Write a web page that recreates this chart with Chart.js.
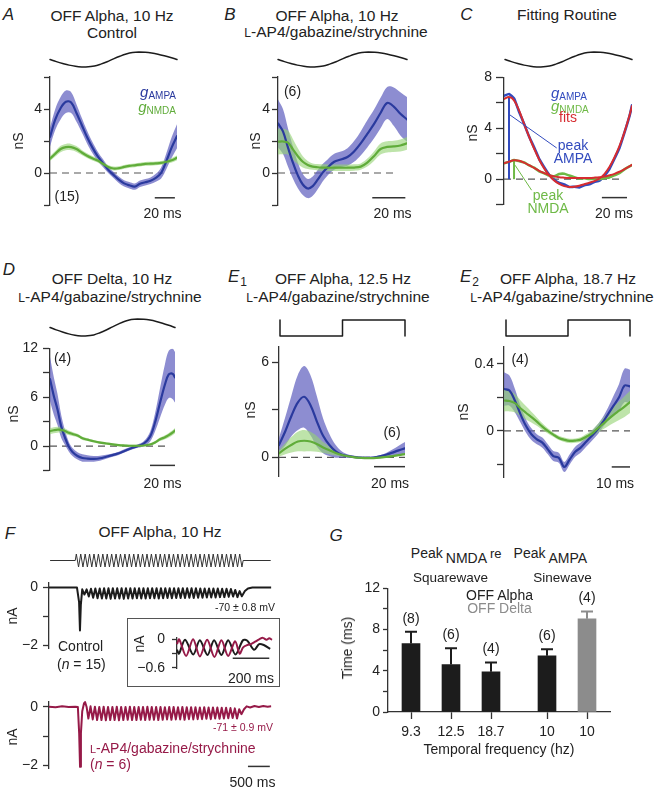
<!DOCTYPE html>
<html>
<head>
<meta charset="utf-8">
<title>OFF Alpha conductances</title>
<script src="https://cdn.jsdelivr.net/npm/chart.js@4.4.1/dist/chart.umd.min.js"></script>
<style>
  body { margin: 0; background: #fff; }
  #fig { position: relative; width: 658px; height: 789px; overflow: hidden;
         font-family: "Liberation Sans", Arial, Helvetica, sans-serif; color: #222; }
  #fig canvas { position: absolute; }
  .t { position: absolute; white-space: nowrap; line-height: 1; }
  .box { position: absolute; border: 1px solid #555; }
</style>
</head>
<body>
<div id="fig"></div>
<script>
// ---------- data (time in ms, conductance in nS, current in nA) ----------

// A: OFF Alpha, 10 Hz, control
const aTime = [0, 5, 10, 15, 20, 25, 30, 35, 40, 45, 50, 55, 60, 65, 70, 75, 80, 85, 90, 95, 100, 105, 110, 115, 120];
const aAmpa = [2.25, 3.35, 4.05, 4.45, 4.4, 3.75, 3.0, 2.25, 1.6, 1.05, 0.62, 0.2, -0.12, -0.42, -0.65, -0.77, -0.85, -0.67, -0.58, -0.48, -0.3, 0.0, 0.75, 1.6, 2.3];
const aAmpaSem = [0.6, 0.65, 0.7, 0.7, 0.65, 0.55, 0.45, 0.4, 0.35, 0.3, 0.25, 0.2, 0.2, 0.2, 0.2, 0.2, 0.2, 0.2, 0.2, 0.2, 0.25, 0.35, 0.5, 0.65, 0.75];
const aNmda = [0.9, 1.2, 1.5, 1.62, 1.62, 1.5, 1.28, 1.08, 0.92, 0.78, 0.58, 0.38, 0.28, 0.3, 0.38, 0.45, 0.48, 0.52, 0.57, 0.58, 0.6, 0.63, 0.7, 0.8, 0.95];
const aNmdaSem = [0.15, 0.17, 0.2, 0.2, 0.2, 0.18, 0.16, 0.15, 0.14, 0.13, 0.12, 0.12, 0.12, 0.12, 0.12, 0.12, 0.12, 0.12, 0.12, 0.12, 0.12, 0.12, 0.13, 0.14, 0.15];

// B: OFF Alpha, 10 Hz, L-AP4/gabazine/strychnine
const bTime = [0, 3, 6, 9, 12, 15, 18, 21, 24, 27, 30, 34, 38, 42, 46, 50, 54, 58, 62, 66, 70, 74, 78];
const bAmpa = [3.1, 2.6, 1.6, 0.65, -0.15, -0.72, -0.97, -0.82, -0.42, 0.02, 0.35, 0.7, 0.84, 1.0, 1.35, 1.85, 2.45, 3.05, 3.75, 4.38, 4.15, 3.7, 3.35];
const bAmpaSem = [1.5, 1.4, 1.2, 1.0, 0.8, 0.65, 0.6, 0.6, 0.6, 0.55, 0.5, 0.5, 0.5, 0.55, 0.65, 0.75, 0.85, 0.9, 0.95, 1.0, 1.2, 1.35, 1.4];
const bNmda = [1.96, 1.97, 1.9, 1.48, 1.05, 0.7, 0.5, 0.4, 0.36, 0.34, 0.33, 0.33, 0.33, 0.33, 0.34, 0.4, 0.65, 1.05, 1.5, 1.63, 1.66, 1.72, 1.85];
const bNmdaSem = [0.8, 0.8, 0.75, 0.65, 0.5, 0.35, 0.25, 0.2, 0.2, 0.2, 0.2, 0.2, 0.2, 0.2, 0.2, 0.2, 0.25, 0.3, 0.35, 0.35, 0.35, 0.38, 0.4];

// C: fitting routine (raw traces and fits)
const cTime = [0, 4, 8, 12, 16, 20, 24, 28, 32, 36, 40, 44, 48, 52, 56, 60, 64, 68, 72, 76, 80, 84, 88, 92, 96, 100, 102];
const cAmpa = [6.55, 6.7, 6.35, 5.3, 4.35, 3.35, 2.5, 1.6, 0.95, 0.35, -0.05, -0.3, -0.42, -0.62, -0.6, -0.65, -0.48, -0.4, -0.22, -0.12, 0.28, 0.8, 1.6, 2.45, 3.65, 4.95, 5.8];
const cAmpaFit = [6.3, 6.45, 6.2, 5.4, 4.35, 3.35, 2.4, 1.55, 0.85, 0.3, -0.1, -0.38, -0.55, -0.62, -0.6, -0.52, -0.4, -0.28, -0.15, 0.05, 0.4, 0.95, 1.7, 2.6, 3.7, 5.0, 5.75];
const cNmda = [1.25, 1.35, 1.5, 1.42, 1.32, 1.08, 0.9, 0.62, 0.47, 0.28, 0.22, 0.4, 0.42, 0.28, 0.15, 0.05, 0.07, 0.02, 0.03, 0.0, 0.1, 0.14, 0.3, 0.48, 0.77, 1.0, 1.1];
const cNmdaFit = [1.25, 1.38, 1.48, 1.45, 1.3, 1.1, 0.88, 0.66, 0.47, 0.32, 0.22, 0.15, 0.12, 0.1, 0.1, 0.1, 0.1, 0.1, 0.12, 0.15, 0.2, 0.3, 0.42, 0.58, 0.78, 1.0, 1.12];
const cAmpaPointer = [[4, 5.1], [42, 2.45]];
const cNmdaPointer = [[8.8, 1.1], [22, -0.87]];

// D: OFF Delta, 10 Hz, L-AP4/gabazine/strychnine
const dTime = [0, 3, 6, 9, 12, 15, 18, 22, 26, 30, 35, 40, 45, 50, 55, 60, 65, 70, 75, 80, 84, 88, 92, 95, 98, 100];
const dAmpa = [8.24, 6.2, 4.5, 2.4, 1.05, -0.05, -0.72, -1.2, -1.45, -1.52, -1.55, -1.48, -1.3, -1.1, -0.88, -0.56, -0.25, 0.0, 0.3, 1.15, 2.9, 5.3, 7.6, 8.8, 8.9, 8.45];
const dAmpaSem = [2.7, 2.3, 1.9, 1.4, 0.9, 0.6, 0.5, 0.45, 0.45, 0.4, 0.35, 0.3, 0.25, 0.2, 0.2, 0.2, 0.2, 0.2, 0.3, 0.6, 1.1, 1.8, 2.5, 2.9, 3.1, 3.1];
const dNmda = [1.85, 1.95, 2.02, 2.0, 1.85, 1.65, 1.5, 1.3, 0.96, 0.8, 0.6, 0.44, 0.33, 0.22, 0.12, 0.08, 0.05, 0.05, 0.08, 0.2, 0.45, 0.84, 1.1, 1.35, 1.65, 1.92];
const dNmdaSem = [0.38, 0.38, 0.37, 0.35, 0.32, 0.28, 0.25, 0.22, 0.2, 0.18, 0.16, 0.15, 0.14, 0.13, 0.12, 0.12, 0.12, 0.12, 0.13, 0.15, 0.18, 0.22, 0.25, 0.28, 0.3, 0.32];

// E1: OFF Alpha, 12.5 Hz square wave
const e1Time = [0, 4, 8, 12, 16, 20, 24, 28, 32, 36, 40, 44, 48, 52, 56, 60, 64, 68, 72, 76, 80];
const e1Ampa = [0.78, 1.65, 2.65, 3.48, 3.83, 3.3, 2.28, 1.36, 0.78, 0.38, 0.17, 0.08, 0.02, -0.02, -0.03, -0.01, 0.06, 0.16, 0.3, 0.44, 0.57];
const e1AmpaSem = [0.45, 0.9, 1.3, 1.75, 1.95, 1.9, 1.6, 1.1, 0.7, 0.4, 0.2, 0.1, 0.08, 0.06, 0.06, 0.06, 0.08, 0.12, 0.2, 0.3, 0.4];
const e1Nmda = [0.25, 0.55, 0.8, 1.0, 1.05, 1.0, 0.85, 0.62, 0.45, 0.27, 0.15, 0.07, 0.0, -0.03, -0.05, -0.05, -0.02, 0.03, 0.08, 0.14, 0.21];
const e1NmdaSem = [0.2, 0.35, 0.5, 0.62, 0.68, 0.62, 0.5, 0.35, 0.25, 0.15, 0.1, 0.06, 0.05, 0.05, 0.05, 0.05, 0.05, 0.05, 0.05, 0.05, 0.06];

// E2: OFF Alpha, 18.7 Hz square wave
const e2Time = [0, 3, 6, 9, 12, 15, 18, 21, 24, 27, 30, 33, 36, 39, 42, 45, 48, 51, 54, 57, 60, 63, 66, 69];
const e2Ampa = [0.25, 0.24, 0.18, 0.1, 0.03, -0.02, -0.05, -0.07, -0.11, -0.15, -0.16, -0.215, -0.17, -0.125, -0.1, -0.065, -0.03, 0.005, 0.05, 0.1, 0.15, 0.2, 0.27, 0.265];
const e2AmpaSem = [0.1, 0.09, 0.07, 0.05, 0.04, 0.035, 0.03, 0.03, 0.03, 0.03, 0.03, 0.03, 0.03, 0.03, 0.03, 0.03, 0.03, 0.03, 0.03, 0.04, 0.06, 0.08, 0.1, 0.1];
const e2Nmda = [0.181, 0.178, 0.165, 0.135, 0.108, 0.082, 0.055, 0.025, 0.0, -0.022, -0.042, -0.053, -0.06, -0.058, -0.052, -0.035, -0.018, 0.012, 0.04, 0.068, 0.095, 0.12, 0.145, 0.172];
const e2NmdaSem = [0.065, 0.062, 0.055, 0.048, 0.04, 0.032, 0.025, 0.02, 0.015, 0.013, 0.013, 0.013, 0.013, 0.013, 0.014, 0.016, 0.02, 0.025, 0.032, 0.04, 0.048, 0.055, 0.062, 0.065];

// stimulus shapes (fraction of the trace width, normalised contrast)
const sineStimX = [0, 0.05, 0.1, 0.15, 0.2, 0.25, 0.28, 0.35, 0.4, 0.45, 0.5, 0.55, 0.6, 0.65, 0.7, 0.75, 0.8, 0.85, 0.9, 0.95, 1];
const sineStim = [0, -0.28, -0.53, -0.75, -0.9, -0.99, -1, -0.87, -0.62, -0.3, 0.08, 0.43, 0.73, 0.93, 1, 0.97, 0.87, 0.71, 0.5, 0.26, 0];
const squareStimX = [0, 0, 0.5, 0.5, 1, 1];
const squareStim = [1, -1, -1, 1, 1, -1];

// F: whole-cell currents, 10 Hz sine train
const fStimLevels = [
  1, -1, 1, -1, 1, -1, 1, -1, 1, -1, 1, -1, 1, -1, 1, -1, 1, -1, 1, -1,
  1, -1, 1, -1, 1, -1, 1, -1, 1, -1, 1, -1, 1, -1, 1, -1, 1, -1, 1, -1,
  1, -1, 1, -1, 1, -1, 1, -1, 1, -1, 1, -1, 1, -1, 1, -1, 1, -1, 1, -1,
  1, -1, 1, -1, 1, -1, 1, -1, 1, -1, 1, -1, 1, -1, 1, -1
];
const F_PERIOD = 100;
const fCtrlOnset = [[0, 0], [640, 0], [688, -0.5], [708, -1.48], [728, -0.6], [760, -0.06]];
const fCtrlFirstTrough = 810;
const fCtrlTroughs = [-0.24, -0.31, -0.35, -0.37, -0.38, -0.38, -0.39, -0.38, -0.38, -0.39, -0.38, -0.38, -0.37, -0.38, -0.38, -0.37, -0.37, -0.38, -0.37, -0.36, -0.37, -0.36, -0.36, -0.36, -0.35, -0.36, -0.35, -0.35, -0.34, -0.34, -0.34, -0.33, -0.33, -0.32, -0.31, -0.33];
const fCtrlPeaks = [-0.06, -0.04, -0.03, -0.03, -0.02, -0.02, -0.02, -0.02, -0.02, -0.02, -0.02, -0.02, -0.02, -0.02, -0.02, -0.02, -0.02, -0.02, -0.02, -0.02, -0.02, -0.02, -0.02, -0.02, -0.02, -0.02, -0.03, -0.03, -0.03, -0.03, -0.03, -0.04, -0.04, -0.05, -0.08, -0.12];
const fCtrlTail = [[4410, -0.3], [4480, -0.12], [4550, -0.03], [4650, 0], [5080, 0]];
const fRedOnset = [[0, 0.01], [150, -0.01], [300, 0.02], [450, 0], [600, 0.01], [660, 0], [690, -0.9], [710, -2.06], [730, -0.9], [760, -0.15], [800, 0.12], [825, 0.17], [860, 0]];
const fRedFirstTrough = 900;
const fRedTroughs = [-0.4, -0.43, -0.45, -0.45, -0.46, -0.45, -0.45, -0.46, -0.45, -0.44, -0.45, -0.45, -0.44, -0.45, -0.44, -0.44, -0.45, -0.44, -0.43, -0.44, -0.43, -0.43, -0.44, -0.42, -0.43, -0.42, -0.42, -0.41, -0.42, -0.4, -0.41, -0.4, -0.39, -0.38, -0.4];
const fRedPeaks = [0.02, 0.01, 0, 0.01, 0, 0, 0.01, 0, 0, 0.01, 0, 0, 0, 0.01, 0, 0, 0, -0.01, 0, 0, -0.01, 0, -0.01, -0.01, -0.01, -0.02, -0.01, -0.02, -0.02, -0.02, -0.03, -0.03, -0.04, -0.05, -0.08];
const fRedTail = [[4400, -0.25], [4460, -0.08], [4520, 0.02], [4600, -0.02], [4700, 0.03], [4800, 0], [4900, 0.03], [5000, 0.01], [5080, 0.02]];
// inset, expanded time (ms)
const insetCtrl = [[0, -0.22], [11, -0.3], [44, -0.01], [89, -0.32], [125, -0.02], [167, -0.33], [203, -0.02], [243, -0.33], [280, -0.02], [320, -0.32], [361, -0.02], [385, -0.03], [422, -0.22], [450, -0.1], [475, -0.12], [510, -0.2]];
const insetRed = [[0, -0.1], [12, 0], [50, -0.35], [88, 0], [125, -0.36], [165, -0.01], [205, -0.37], [243, -0.02], [280, -0.35], [318, -0.04], [343, -0.3], [362, -0.17], [385, -0.12], [405, -0.1], [428, -0.05], [450, 0], [470, 0.03], [490, -0.01], [505, 0.02], [520, -0.01]];

// G: peak NMDA re peak AMPA
const gFreqLabels = ['9.3', '12.5', '18.7', '10', '10'];
const gMeans = [6.65, 4.6, 3.9, 5.45, 9.05];
const gSem = [1.15, 1.6, 0.9, 0.65, 0.7];
const gN = ['(8)', '(6)', '(4)', '(6)', '(4)'];
const gCell = ['OFF Alpha', 'OFF Alpha', 'OFF Alpha', 'OFF Alpha', 'OFF Delta'];

// tick values and labels
const abTicks = [-2, 0, 2, 4, 6], abTickLabels = ['', '0', '', '4', ''];
const cTicks = [-2, 0, 2, 4, 6, 8], cTickLabels = ['', '0', '', '4', '', '8'];
const dTicks = [-3, 0, 3, 6, 9, 12], dTickLabels = ['', '0', '', '6', '', '12'];
const e1Ticks = [0, 3, 6], e1TickLabels = ['0', '', '6'];
const e2Ticks = [-0.2, 0, 0.2, 0.4], e2TickLabels = ['', '0', '', '0.4'];
const fTicks = [-2, -1, 0], fTickLabels = ['\u22122', '', '0'];
const insetTicks = [-0.6, -0.3, 0], insetTickLabels = ['\u22120.6', '', '0'];
const gTicks = [0, 2, 4, 6, 8, 10, 12], gTickLabels = ['0', '', '4', '', '8', '', '12'];

// ---------- styles ----------
const BLUE = 'rgb(42,58,158)';
const BLUE_BAND = 'rgba(92,92,190,0.7)';
const GREEN = 'rgb(96,172,58)';
const GREEN_BAND = 'rgba(150,212,118,0.62)';
const RAW_BLUE = 'rgb(50,75,190)';
const RAW_GREEN = 'rgb(110,185,70)';
const RED_FIT = 'rgb(214,44,48)';
const MAROON = 'rgb(150,26,72)';
const INK = '#1c1c1c';
const AXIS = '#333';
const GREY = '#8c8c8c';
const CELL_COLOR = { 'OFF Alpha': INK, 'OFF Delta': GREY };
const G_SLOTS = [1, 2, 3, 4.4, 5.4];

Chart.defaults.font.family = '"Liberation Sans", Arial, Helvetica, sans-serif';
Chart.defaults.font.size = 14;
Chart.defaults.color = '#222';

const fig = document.getElementById('fig');

// ---------- helpers ----------
function makeChart(area, pad, config, xAxisH = 0) {
  const cv = document.createElement('canvas');
  const w = Math.round(area.r - area.l + pad.l + pad.r);
  const h = Math.round(area.b - area.t + pad.t + pad.b);
  cv.width = w;
  cv.height = h;
  cv.style.left = (area.l - pad.l) + 'px';
  cv.style.top = (area.t - pad.t) + 'px';
  cv.style.width = w + 'px';
  cv.style.height = h + 'px';
  fig.appendChild(cv);
  const o = config.options;
  const y = o.scales.y;
  if (y.display === false) {
    o.layout = { padding: { left: pad.l, right: pad.r, top: pad.t, bottom: pad.b - xAxisH } };
  } else {
    o.layout = { padding: { left: 0, right: pad.r, top: pad.t, bottom: pad.b - xAxisH } };
    y.afterFit = s => { s.width = pad.l; };
  }
  Object.assign(o, { responsive: false, animation: false, devicePixelRatio: 1, events: [] });
  o.plugins = Object.assign({ legend: { display: false }, tooltip: { enabled: false } }, o.plugins || {});
  return new Chart(cv, config);
}

function yAxis(min, max, ticks, labels, tickLen, padding) {
  return {
    min, max,
    afterBuildTicks: s => { s.ticks = ticks.map(v => ({ value: v })); },
    ticks: { callback: (v, i) => labels[i], padding, autoSkip: false, color: '#222', font: { size: 14 } },
    grid: { drawOnChartArea: false, drawTicks: true, tickLength: tickLen, tickColor: AXIS, tickWidth: 1.3 },
    border: { display: true, color: AXIS, width: 1.3 }
  };
}

function xHidden(min, max) {
  return { type: 'linear', min, max, display: false };
}

function pts(xs, ys) {
  return xs.map((x, i) => ({ x, y: ys[i] }));
}

function trace(xs, ys, color, width, order, extra) {
  return Object.assign({ data: pts(xs, ys), borderColor: color, borderWidth: width, pointRadius: 0,
    fill: false, tension: 0.35, order, borderJoinStyle: 'round', borderCapStyle: 'round' }, extra || {});
}

function seg(points, color, width, order, dash) {
  return { data: points.map(p => ({ x: p[0], y: p[1] })), borderColor: color, borderWidth: width,
    pointRadius: 0, fill: false, tension: 0, order, borderDash: dash || [], clip: false };
}

function band(xs, mean, sem, color, order) {
  const lo = mean.map((m, i) => m - sem[i]);
  const hi = mean.map((m, i) => m + sem[i]);
  return [
    { data: pts(xs, lo), borderWidth: 0, pointRadius: 0, fill: false, tension: 0.35, order },
    { data: pts(xs, hi), borderWidth: 0, pointRadius: 0, fill: '-1', backgroundColor: color, tension: 0.35, order }
  ];
}

function stimChart(area, xs, vs, tension) {
  makeChart(area, { l: 3, r: 3, t: 3, b: 3 }, {
    type: 'line',
    data: { datasets: [trace(xs, vs, INK, 1.5, 1, { tension, clip: false })] },
    options: { scales: { x: xHidden(0, 1), y: { min: -1, max: 1, display: false } } }
  });
}

function text(html, x, y, opt = {}) {
  const el = document.createElement('div');
  el.className = 't';
  el.innerHTML = html;
  el.style.fontSize = (opt.size || 14) + 'px';
  if (opt.color) el.style.color = opt.color;
  if (opt.italic) el.style.fontStyle = 'italic';
  el.style.left = x + 'px';
  el.style.top = y + 'px';
  const ax = { l: '0', c: '-50%', r: '-100%' }[opt.align || 'c'];
  el.style.transform = 'translate(' + ax + ',-50%)' + (opt.rotate ? ' rotate(-90deg)' : '');
  fig.appendChild(el);
}

// ---------- conductance panels A, B, D, E1, E2 ----------
function conductancePanel(p) {
  const datasets = [
    seg([[0, 0], [p.zeroEnd, 0]], '#555', 1.2, 10, [7, 5]),
    ...band(p.time, p.ampa, p.ampaSem, BLUE_BAND, 8),
    ...band(p.time, p.nmda, p.nmdaSem, GREEN_BAND, 7),
    trace(p.time, p.ampa, BLUE, 2.2, 3),
    trace(p.time, p.nmda, GREEN, 2.2, 2),
    seg([[p.bar[0], p.bar[2]], [p.bar[1], p.bar[2]]], AXIS, 1.5, 1)
  ];
  makeChart(p.area, { l: 45, r: 8, t: 12, b: 12 }, {
    type: 'line',
    data: { datasets },
    options: { scales: { x: xHidden(0, p.xMax), y: yAxis(p.yMin, p.yMax, p.ticks, p.labels, p.tick, p.tpad) } }
  });
}

conductancePanel({ area: { l: 50, r: 177, t: 77, b: 205 }, xMax: 120, yMin: -2, yMax: 6, ticks: abTicks, labels: abTickLabels,
  tick: 6, tpad: 2, time: aTime, ampa: aAmpa, ampaSem: aAmpaSem, nmda: aNmda, nmdaSem: aNmdaSem, zeroEnd: 107, bar: [99, 118, -1.55] });
conductancePanel({ area: { l: 278, r: 407, t: 77, b: 205 }, xMax: 78, yMin: -2, yMax: 6, ticks: abTicks, labels: abTickLabels,
  tick: 6, tpad: 2, time: bTime, ampa: bAmpa, ampaSem: bAmpaSem, nmda: bNmda, nmdaSem: bNmdaSem, zeroEnd: 72, bar: [57, 77, -1.55] });
conductancePanel({ area: { l: 50, r: 175, t: 347, b: 472 }, xMax: 100, yMin: -3, yMax: 12, ticks: dTicks, labels: dTickLabels,
  tick: 7, tpad: 5, time: dTime, ampa: dAmpa, ampaSem: dAmpaSem, nmda: dNmda, nmdaSem: dNmdaSem, zeroEnd: 92, bar: [80, 100, -2.36] });
conductancePanel({ area: { l: 279, r: 405, t: 347, b: 476 }, xMax: 80, yMin: -1.18, yMax: 6.98, ticks: e1Ticks, labels: e1TickLabels,
  tick: 7, tpad: 3, time: e1Time, ampa: e1Ampa, ampaSem: e1AmpaSem, nmda: e1Nmda, nmdaSem: e1NmdaSem, zeroEnd: 80, bar: [60.3, 80, -0.59] });
conductancePanel({ area: { l: 504, r: 630, t: 347, b: 477 }, xMax: 69, yMin: -0.275, yMax: 0.5, ticks: e2Ticks, labels: e2TickLabels,
  tick: 7, tpad: 3, time: e2Time, ampa: e2Ampa, ampaSem: e2AmpaSem, nmda: e2Nmda, nmdaSem: e2NmdaSem, zeroEnd: 69, bar: [59, 69, -0.215] });

// ---------- C: fitting routine ----------
const iPeakA = cAmpaFit.indexOf(Math.max(...cAmpaFit));
const iPeakN = cNmdaFit.indexOf(Math.max(...cNmdaFit));
makeChart({ l: 504, r: 632, t: 77, b: 205 }, { l: 45, r: 8, t: 12, b: 12 }, {
  type: 'line',
  data: {
    datasets: [
      seg([[0, 0], [92, 0]], '#555', 1.2, 10, [7, 5]),
      trace(cTime, cAmpa, RAW_BLUE, 2.6, 6, { tension: 0.15 }),
      trace(cTime, cNmda, RAW_GREEN, 2.6, 5, { tension: 0.15 }),
      seg([[cTime[iPeakA], 0], [cTime[iPeakA], cAmpaFit[iPeakA]]], RAW_BLUE, 2, 4),
      seg([[cTime[iPeakN], 0], [cTime[iPeakN], cNmdaFit[iPeakN]]], RAW_GREEN, 2, 4),
      trace(cTime, cAmpaFit, RED_FIT, 2, 3),
      trace(cTime, cNmdaFit, RED_FIT, 2, 3),
      seg(cAmpaPointer, RAW_BLUE, 1, 2),
      seg(cNmdaPointer, RAW_GREEN, 1, 2),
      seg([[78, -1.45], [98, -1.45]], AXIS, 1.5, 1)
    ]
  },
  options: { scales: { x: xHidden(0, 102), y: yAxis(-2, 8, cTicks, cTickLabels, 8, 4) } }
});

// ---------- stimulus traces ----------
stimChart({ l: 50, r: 177, t: 52, b: 67 }, sineStimX, sineStim, 0.35);
stimChart({ l: 278, r: 407, t: 52, b: 67 }, sineStimX, sineStim, 0.35);
stimChart({ l: 505, r: 632, t: 52, b: 67 }, sineStimX, sineStim, 0.35);
stimChart({ l: 50, r: 175, t: 319, b: 336 }, sineStimX, sineStim, 0.35);
stimChart({ l: 280, r: 405, t: 320, b: 336 }, squareStimX, squareStim, 0);
stimChart({ l: 506, r: 630, t: 320, b: 336 }, squareStimX, squareStim, 0);

// ---------- F: currents ----------
const fStimPts = [[25, 0], [600, 0]];
fStimLevels.forEach((v, k) => fStimPts.push([625 + k * 50.5, v]));
fStimPts.push([4440, 0], [5070, 0]);
makeChart({ l: 49, r: 272, t: 554, b: 567 }, { l: 3, r: 3, t: 3, b: 3 }, {
  type: 'line',
  data: { datasets: [seg(fStimPts, '#333', 1, 1)] },
  options: { scales: { x: xHidden(0, 5100), y: { min: -1, max: 1, display: false } } }
});

const ctrlPts = fCtrlOnset.slice();
fCtrlTroughs.forEach((v, i) => {
  ctrlPts.push([fCtrlFirstTrough + i * F_PERIOD, v], [fCtrlFirstTrough + F_PERIOD / 2 + i * F_PERIOD, fCtrlPeaks[i]]);
});
ctrlPts.push(...fCtrlTail);
makeChart({ l: 49, r: 272, t: 579, b: 652 }, { l: 45, r: 8, t: 10, b: 10 }, {
  type: 'line',
  data: { datasets: [Object.assign(seg(ctrlPts, INK, 2, 1), { borderJoinStyle: 'round' })] },
  options: { scales: { x: xHidden(0, 5100), y: yAxis(-2.11, 0.18, fTicks, fTickLabels, 6, 5) } }
});

const redPts = fRedOnset.slice();
fRedTroughs.forEach((v, i) => {
  redPts.push([fRedFirstTrough + i * F_PERIOD, v], [fRedFirstTrough + F_PERIOD / 2 + i * F_PERIOD, fRedPeaks[i]]);
});
redPts.push(...fRedTail);
makeChart({ l: 49, r: 272, t: 698, b: 772 }, { l: 45, r: 8, t: 10, b: 10 }, {
  type: 'line',
  data: {
    datasets: [
      Object.assign(seg(redPts, MAROON, 2, 2), { borderJoinStyle: 'round' }),
      seg([[4550, -2.045], [5050, -2.045]], AXIS, 1.5, 1)
    ]
  },
  options: { scales: { x: xHidden(0, 5100), y: yAxis(-2.12, 0.19, fTicks, fTickLabels, 6, 5) } }
});

// inset box and expanded traces
const box = document.createElement('div');
box.className = 'box';
Object.assign(box.style, { left: '127px', top: '618px', width: '151px', height: '67px' });
fig.appendChild(box);
makeChart({ l: 177, r: 272, t: 630, b: 678 }, { l: 42, r: 4, t: 8, b: 6 }, {
  type: 'line',
  data: {
    datasets: [
      seg([[305, -0.396], [505, -0.396]], AXIS, 1.5, 1),
      Object.assign(seg(insetRed, MAROON, 2, 2), { tension: 0.3 }),
      Object.assign(seg(insetCtrl, INK, 2, 3), { tension: 0.3 })
    ]
  },
  options: { scales: { x: xHidden(0, 520), y: yAxis(-0.615, 0.04, insetTicks, insetTickLabels, 5, 7) } }
});

// ---------- G: bar chart ----------
const gColors = gCell.map(c => CELL_COLOR[c]);
const errorBars = {
  id: 'errorBars',
  afterDatasetsDraw(chart, args, opts) {
    const meta = chart.getDatasetMeta(0);
    const y = chart.scales.y;
    const ctx = chart.ctx;
    meta.data.forEach((bar, i) => {
      const top = y.getPixelForValue(gMeans[i] + opts.sem[i]);
      ctx.save();
      ctx.strokeStyle = opts.colors[i];
      ctx.lineWidth = 2;
      ctx.beginPath();
      ctx.moveTo(bar.x, bar.y);
      ctx.lineTo(bar.x, top);
      ctx.moveTo(bar.x - 6, top);
      ctx.lineTo(bar.x + 6, top);
      ctx.stroke();
      ctx.fillStyle = '#222';
      ctx.font = '14px "Liberation Sans", Arial, sans-serif';
      ctx.textAlign = 'center';
      ctx.textBaseline = 'middle';
      ctx.fillText(opts.labels[i], bar.x, top - 13);
      ctx.restore();
    });
  }
};
makeChart({ l: 388, r: 610, t: 585, b: 712 }, { l: 40, r: 10, t: 8, b: 34 }, {
  type: 'bar',
  data: { datasets: [{ data: G_SLOTS.map((s, i) => ({ x: s, y: gMeans[i] })), backgroundColor: gColors, barThickness: 18, borderWidth: 0 }] },
  options: {
    scales: {
      x: {
        type: 'linear', min: 0.425, max: 5.975, offset: false,
        afterBuildTicks: s => { s.ticks = G_SLOTS.map(v => ({ value: v })); },
        afterFit: s => { s.height = 32; },
        ticks: { callback: (v, i) => gFreqLabels[i], autoSkip: false, maxRotation: 0, padding: 5, color: '#222', font: { size: 14 } },
        grid: { drawOnChartArea: false, offset: false, tickLength: 7, tickColor: AXIS, tickWidth: 1.3 },
        border: { color: AXIS, width: 1.3 }
      },
      y: yAxis(0, 12, gTicks, gTickLabels, 5, 3)
    },
    plugins: { errorBars: { sem: gSem, labels: gN, colors: gColors } }
  },
  plugins: [errorBars]
}, 32);

// ---------- text ----------
const LAP4 = '<span style="font-size:0.78em">L</span>-AP4/gabazine/strychnine';
const gSub = sub => '<i style="font-size:15px">g</i><span style="font-size:10px;position:relative;top:2px">' + sub + '</span>';
const TITLE = 15.5;

text('A', 8.5, 13.5, { size: 17, italic: true });
text('B', 230, 13.5, { size: 17, italic: true });
text('C', 466.5, 13.5, { size: 17, italic: true });
text('D', 9, 269, { size: 17, italic: true });
text('<i>E</i><span style="font-size:12px;position:relative;top:4px;margin-left:1px">1</span>', 228, 276, { size: 17, align: 'l' });
text('<i>E</i><span style="font-size:12px;position:relative;top:4px;margin-left:1px">2</span>', 460, 276, { size: 17, align: 'l' });
text('F', 10, 533, { size: 17, italic: true });
text('G', 336, 535, { size: 17, italic: true });

text('OFF Alpha, 10 Hz', 112, 15.5, { size: TITLE });
text('Control', 112, 32.5, { size: TITLE });
text('OFF Alpha, 10 Hz', 337, 15.5, { size: TITLE });
text(LAP4, 336, 32, { size: TITLE });
text('Fitting Routine', 567, 14.5, { size: TITLE });
text('OFF Delta, 10 Hz', 112, 279, { size: TITLE });
text(LAP4, 110, 297, { size: TITLE });
text('OFF Alpha, 12.5 Hz', 343, 279, { size: TITLE });
text(LAP4, 338, 297, { size: TITLE });
text('OFF Alpha, 18.7 Hz', 568, 279, { size: TITLE });
text(LAP4, 562, 297, { size: TITLE });
text('OFF Alpha, 10 Hz', 160, 532, { size: TITLE });

text('nS', 18, 141, { rotate: true });
text('nS', 255, 141, { rotate: true });
text('nS', 472, 133, { rotate: true });
text('nS', 13, 414, { rotate: true });
text('nS', 250, 410, { rotate: true });
text('nS', 463, 412, { rotate: true });
text('nA', 12, 616, { rotate: true });
text('nA', 12, 737, { rotate: true });
text('nA', 139, 644, { rotate: true });

text('(15)', 67, 196);
text('(6)', 292.5, 91);
text('(4)', 62.5, 358);
text('(6)', 392, 432);
text('(4)', 520, 359);

text('20 ms', 162.5, 212.5);
text('20 ms', 392.5, 212.5);
text('20 ms', 614, 212.5);
text('20 ms', 162.5, 483);
text('20 ms', 390, 483);
text('10 ms', 615, 483);
text('500 ms', 252.5, 782);
text('200 ms', 251, 678);

text(gSub('AMPA'), 176, 91, { color: BLUE, align: 'r' });
text(gSub('NMDA'), 176, 106, { color: GREEN, align: 'r' });
text(gSub('AMPA'), 551, 92, { color: RAW_BLUE, align: 'l' });
text(gSub('NMDA'), 551, 104.5, { color: RAW_GREEN, align: 'l' });
text('fits', 568, 117, { color: RED_FIT });
text('peak', 573, 145, { color: RAW_BLUE });
text('AMPA', 573, 158, { color: RAW_BLUE });
text('peak', 548, 195, { color: RAW_GREEN });
text('NMDA', 548, 208, { color: RAW_GREEN });

text('-70 \u00b1 0.8 mV', 245, 607, { size: 10.5 });
text('-71 \u00b1 0.9 mV', 243, 727, { size: 10.5, color: MAROON });
text('Control', 58, 645.5, { align: 'l' });
text('(<i>n</i> = 15)', 57, 664, { align: 'l' });
text(LAP4, 90, 747.5, { align: 'l', color: MAROON });
text('(<i>n</i> = 6)', 90, 764, { align: 'l', color: MAROON });

text('Peak<span style="position:relative;top:5px;margin-left:3px">NMDA</span><span style="font-size:13px;margin:0 12px 0 3px">re</span>Peak<span style="position:relative;top:5px;margin-left:3px">AMPA</span>', 499, 553);
text('Squarewave', 450.5, 578, { size: 13.5 });
text('Sinewave', 562.5, 578, { size: 13.5 });
text('OFF Alpha', 499.5, 595);
text('OFF Delta', 499.5, 608, { color: GREY });
text('Time (ms)', 347, 648, { rotate: true });
text('Temporal frequency (hz)', 499, 749);
</script>
</body>
</html>
